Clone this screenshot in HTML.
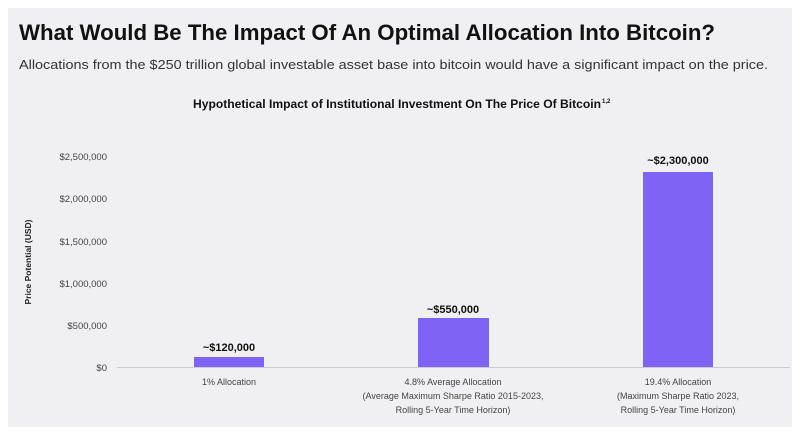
<!DOCTYPE html>
<html><head><meta charset="utf-8"><style>
body{margin:0;background:#fff;width:800px;height:427px;overflow:hidden;font-family:"Liberation Sans",sans-serif}
</style></head><body>
<svg width="800" height="427" xmlns="http://www.w3.org/2000/svg" font-family="Liberation Sans, sans-serif">
<rect x="8" y="8" width="784" height="419" fill="#f0f0f2"/>
<text x="19" y="40" font-size="22" font-weight="bold" fill="#111" textLength="696" lengthAdjust="spacingAndGlyphs">What Would Be The Impact Of An Optimal Allocation Into Bitcoin?</text>
<text x="19" y="69" font-size="13" fill="#333" textLength="749" lengthAdjust="spacingAndGlyphs">Allocations from the $250 trillion global investable asset base into bitcoin would have a significant impact on the price.</text>
<text x="193" y="108" font-size="11.5" font-weight="bold" fill="#111" textLength="408" lengthAdjust="spacingAndGlyphs">Hypothetical Impact of Institutional Investment On The Price Of Bitcoin</text>
<text x="602" y="103" font-size="6" font-weight="bold" fill="#111">1,2</text>
<g font-size="9.5" fill="#444" text-anchor="end">
<text x="107" y="160">$2,500,000</text>
<text x="107" y="202">$2,000,000</text>
<text x="107" y="245">$1,500,000</text>
<text x="107" y="287">$1,000,000</text>
<text x="107" y="329">$500,000</text>
<text x="107" y="371">$0</text>
</g>
<text transform="translate(31,262) rotate(-90)" font-size="8.5" font-weight="bold" fill="#222" text-anchor="middle">Price Potential (USD)</text>
<line x1="117" y1="367.5" x2="790" y2="367.5" stroke="#ccc" stroke-width="1"/>
<g fill="#7f63f5">
<rect x="194" y="357" width="70" height="10"/>
<rect x="418" y="318" width="71" height="49"/>
<rect x="643" y="172" width="70" height="195"/>
</g>
<g font-size="11" font-weight="bold" fill="#111" text-anchor="middle">
<text x="229" y="351">~$120,000</text>
<text x="453" y="313">~$550,000</text>
<text x="678" y="164">~$2,300,000</text>
</g>
<g font-size="9" fill="#444" text-anchor="middle">
<text x="229" y="385">1% Allocation</text>
<text x="453" y="385">4.8% Average Allocation</text>
<text x="453" y="399">(Average Maximum Sharpe Ratio 2015-2023,</text>
<text x="453" y="413">Rolling 5-Year Time Horizon)</text>
<text x="678" y="385">19.4% Allocation</text>
<text x="678" y="399">(Maximum Sharpe Ratio 2023,</text>
<text x="678" y="413">Rolling 5-Year Time Horizon)</text>
</g>
</svg>
</body></html>
